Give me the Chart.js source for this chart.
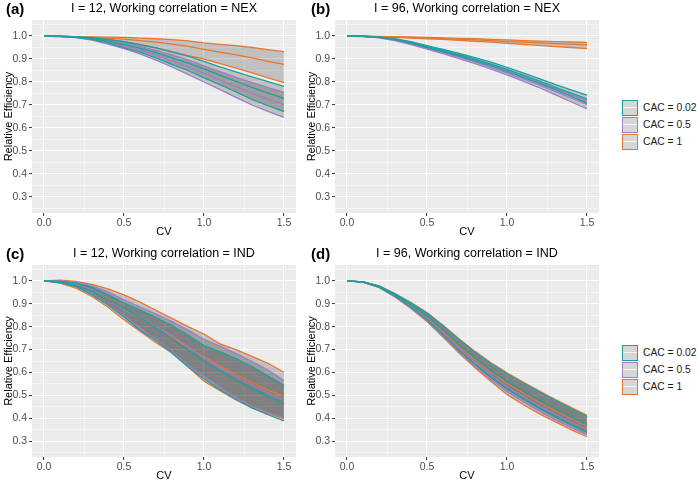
<!DOCTYPE html>
<html>
<head>
<meta charset="utf-8">
<script src="https://cdn.jsdelivr.net/npm/chart.js@4"></script>
<style>
  body { margin: 0; background: #fff; width: 697px; height: 486px; position: relative; overflow: hidden; font-family: "Liberation Sans", Arial, sans-serif; }
  canvas { position: absolute; }
  .legend { position: absolute; left: 622px; width: 75px; font-size: 10.3px; color: #1a1a1a; white-space: nowrap; }
  .legend .row { height: 17px; display: flex; align-items: center; }
  .legend .key { width: 14px; height: 14px; background: #d6d6d6; border: 1.5px solid; position: relative; margin-right: 5px; flex: none; }
  .legend .key::after { content: ""; position: absolute; left: 0; right: 0; top: 6px; height: 1.5px; background: rgba(255,255,255,0.7); }
</style>
</head>
<body>
<canvas id="pa" width="300" height="240" style="left:0;top:0"></canvas>
<canvas id="pb" width="300" height="240" style="left:303px;top:0"></canvas>
<canvas id="pc" width="300" height="239" style="left:0;top:245px"></canvas>
<canvas id="pd" width="300" height="239" style="left:303px;top:245px"></canvas>
<div class="legend" id="leg1" style="top:99px"></div>
<div class="legend" id="leg2" style="top:344px"></div>
<script>
// x values (CV) and axis ticks
const cv = [0, 0.1, 0.2, 0.3, 0.4, 0.5, 0.6, 0.7, 0.8, 0.9, 1.0, 1.1, 1.2, 1.3, 1.4, 1.5];
const xTicks = [0, 0.5, 1.0, 1.5];
const yTicks = [0.3, 0.4, 0.5, 0.6, 0.7, 0.8, 0.9, 1.0];
const cacLabels = ['CAC = 0.02', 'CAC = 0.5', 'CAC = 1'];
const cacColors = ['#1ba19d', '#a07cc9', '#e8772e'];

// (a) I = 12, NEX
const aTealHi   = [1.0,0.999,0.997,0.993,0.985,0.975,0.962,0.948,0.930,0.912,0.890,0.866,0.844,0.822,0.802,0.781];
const aTealMid  = [1.0,0.999,0.996,0.990,0.978,0.963,0.947,0.928,0.905,0.882,0.857,0.830,0.803,0.777,0.752,0.729];
const aTealLo   = [1.0,0.998,0.994,0.985,0.970,0.950,0.930,0.905,0.877,0.850,0.818,0.788,0.757,0.724,0.697,0.671];
const aPurpHi   = [1.0,0.999,0.996,0.991,0.982,0.970,0.955,0.938,0.918,0.896,0.870,0.845,0.820,0.797,0.776,0.755];
const aPurpMid  = [1.0,0.998,0.995,0.988,0.975,0.958,0.940,0.918,0.893,0.866,0.838,0.808,0.780,0.752,0.726,0.702];
const aPurpLo   = [1.0,0.998,0.993,0.982,0.965,0.945,0.922,0.895,0.866,0.833,0.800,0.767,0.733,0.700,0.672,0.646];
const aOrngHi   = [1.0,0.998,0.997,0.996,0.995,0.994,0.991,0.988,0.984,0.979,0.970,0.964,0.958,0.950,0.941,0.932];
const aOrngMid  = [1.0,0.997,0.996,0.994,0.991,0.986,0.980,0.973,0.965,0.955,0.942,0.930,0.918,0.905,0.890,0.877];
const aOrngLo   = [1.0,0.997,0.995,0.992,0.985,0.975,0.962,0.948,0.932,0.915,0.900,0.880,0.860,0.840,0.818,0.797];

// (b) I = 96, NEX
const bTealHi   = [1.0,0.999,0.996,0.988,0.975,0.958,0.942,0.925,0.906,0.886,0.864,0.840,0.815,0.790,0.766,0.743];
const bTealMid  = [1.0,0.999,0.995,0.986,0.972,0.954,0.937,0.919,0.899,0.878,0.855,0.830,0.805,0.778,0.752,0.727];
const bTealLo   = [1.0,0.999,0.994,0.984,0.969,0.950,0.932,0.913,0.892,0.870,0.846,0.820,0.794,0.767,0.738,0.708];
const bPurpHi   = [1.0,0.999,0.995,0.985,0.970,0.952,0.934,0.915,0.895,0.873,0.850,0.825,0.799,0.773,0.746,0.720];
const bPurpMid  = [1.0,0.998,0.993,0.982,0.966,0.947,0.928,0.908,0.887,0.864,0.840,0.814,0.787,0.759,0.731,0.703];
const bPurpLo   = [1.0,0.998,0.992,0.980,0.963,0.943,0.923,0.902,0.880,0.856,0.831,0.804,0.776,0.745,0.714,0.683];
const bOrngHi   = [1.0,0.999,0.998,0.997,0.996,0.994,0.992,0.990,0.988,0.985,0.983,0.980,0.978,0.976,0.974,0.972];
const bOrngMid  = [1.0,0.998,0.997,0.995,0.993,0.991,0.989,0.986,0.983,0.980,0.976,0.973,0.970,0.967,0.965,0.962];
const bOrngLo   = [1.0,0.997,0.996,0.994,0.991,0.988,0.985,0.981,0.977,0.973,0.968,0.964,0.959,0.954,0.950,0.945];

// (c) I = 12, IND
const cTealHi   = [1.0,0.998,0.990,0.972,0.940,0.903,0.872,0.840,0.805,0.762,0.717,0.690,0.660,0.625,0.585,0.543];
const cTealMid  = [1.0,0.995,0.980,0.955,0.920,0.881,0.840,0.795,0.748,0.698,0.649,0.607,0.567,0.528,0.495,0.463];
const cTealLo   = [1.0,0.993,0.975,0.940,0.895,0.842,0.785,0.740,0.685,0.625,0.572,0.525,0.483,0.445,0.415,0.388];
const cPurpHi   = [1.0,1.001,0.994,0.978,0.952,0.917,0.886,0.855,0.822,0.785,0.745,0.715,0.683,0.648,0.610,0.565];
const cPurpMid  = [1.0,0.997,0.985,0.960,0.920,0.874,0.840,0.800,0.760,0.712,0.663,0.620,0.580,0.545,0.510,0.479];
const cPurpLo   = [1.0,0.995,0.978,0.945,0.898,0.848,0.795,0.745,0.690,0.632,0.583,0.535,0.490,0.452,0.425,0.400];
const cOrngHi   = [1.0,1.003,0.998,0.985,0.965,0.939,0.907,0.872,0.836,0.800,0.768,0.725,0.700,0.670,0.640,0.601];
const cOrngMid  = [1.0,0.997,0.985,0.960,0.923,0.881,0.840,0.795,0.752,0.710,0.668,0.628,0.590,0.556,0.523,0.495];
const cOrngLo   = [1.0,0.990,0.968,0.932,0.885,0.830,0.780,0.730,0.685,0.625,0.562,0.520,0.480,0.445,0.420,0.398];

// (d) I = 96, IND
const dTealHi   = [1.0,0.996,0.977,0.944,0.903,0.859,0.803,0.744,0.688,0.638,0.594,0.553,0.515,0.478,0.442,0.407];
const dTealMid  = [1.0,0.996,0.976,0.940,0.896,0.847,0.786,0.722,0.663,0.609,0.561,0.519,0.479,0.442,0.406,0.372];
const dTealLo   = [1.0,0.995,0.973,0.933,0.885,0.831,0.765,0.697,0.635,0.578,0.528,0.484,0.444,0.406,0.371,0.338];
const dPurpHi   = [1.0,0.996,0.977,0.943,0.902,0.857,0.801,0.742,0.686,0.636,0.592,0.552,0.513,0.476,0.440,0.405];
const dPurpMid  = [1.0,0.995,0.974,0.935,0.889,0.836,0.772,0.705,0.644,0.588,0.538,0.495,0.455,0.418,0.383,0.350];
const dPurpLo   = [1.0,0.995,0.972,0.931,0.882,0.826,0.759,0.690,0.627,0.569,0.516,0.472,0.432,0.394,0.360,0.328];
const dOrngHi   = [1.0,0.996,0.978,0.945,0.905,0.862,0.806,0.747,0.692,0.642,0.598,0.558,0.520,0.483,0.447,0.412];
const dOrngMid  = [1.0,0.996,0.975,0.938,0.893,0.843,0.781,0.716,0.656,0.601,0.553,0.511,0.471,0.434,0.399,0.366];
const dOrngLo   = [1.0,0.995,0.972,0.930,0.880,0.823,0.755,0.685,0.620,0.560,0.504,0.460,0.420,0.385,0.350,0.319];

const isMajor = (v, list) => list.some(t => Math.abs(t - v) < 1e-6);

// gray panel background like ggplot
const panelBg = {
    id: 'panelBg',
    beforeDraw(chart) {
        const a = chart.chartArea, ctx = chart.ctx;
        ctx.save();
        ctx.fillStyle = '#ebebeb';
        ctx.fillRect(a.left, a.top, a.right - a.left, a.bottom - a.top);
        ctx.restore();
    }
};

// title and panel letter
const panelText = {
    id: 'panelText',
    afterDraw(chart, args, opts) {
        const a = chart.chartArea, ctx = chart.ctx;
        ctx.save();
        ctx.fillStyle = '#000';
        ctx.textBaseline = 'middle';
        ctx.textAlign = 'center';
        ctx.font = '12.5px "Liberation Sans", Arial, sans-serif';
        ctx.fillText(opts.title, (a.left + a.right) / 2, 9);
        ctx.textAlign = 'left';
        ctx.font = 'bold 15px "Liberation Sans", Arial, sans-serif';
        ctx.fillText(opts.letter, opts.letterX, 10);
        ctx.restore();
    }
};

function makePanel(id, letter, letterX, title, series) {
    let datasets = [];
    series.forEach((s, k) => {
        const base = datasets.length;
        const mk = (data, fill) => ({
            data: data,
            borderColor: cacColors[k],
            borderWidth: 1.3,
            pointRadius: 0,
            tension: 0,
            fill: fill,
            backgroundColor: 'rgba(0,0,0,0.18)'
        });
        datasets.push(mk(s[0], base + 2));
        datasets.push(mk(s[1], false));
        datasets.push(mk(s[2], false));
    });
    datasets.forEach(d => { d.data = d.data.map((y, i) => ({ x: cv[i], y: y })); });

    const tickFont = { size: 10.5, family: '"Liberation Sans", Arial, sans-serif' };
    const titleFont = { size: 11, family: '"Liberation Sans", Arial, sans-serif' };

    new Chart(document.getElementById(id), {
        type: 'line',
        data: { datasets: datasets },
        options: {
            responsive: false,
            animation: false,
            devicePixelRatio: 1,
            layout: { padding: { top: 20, right: 4, left: 0, bottom: 0 } },
            plugins: {
                legend: { display: false },
                tooltip: { enabled: false },
                filler: { drawTime: 'beforeDatasetsDraw' },
                panelText: { title: title, letter: letter, letterX: letterX }
            },
            scales: {
                x: {
                    type: 'linear',
                    min: -0.075, max: 1.575,
                    afterBuildTicks: sc => { sc.ticks = [0, 0.25, 0.5, 0.75, 1.0, 1.25, 1.5].map(v => ({ value: v })); },
                    afterFit: sc => { sc.height = 27; },
                    border: { display: false },
                    grid: {
                        color: '#ffffff',
                        lineWidth: c => isMajor(c.tick.value, xTicks) ? 1.1 : 0.5,
                        tickLength: 3,
                        tickColor: c => isMajor(c.tick.value, xTicks) ? '#333333' : 'rgba(0,0,0,0)',
                        tickWidth: 1
                    },
                    ticks: {
                        autoSkip: false, maxRotation: 0, padding: 1,
                        color: '#4d4d4d', font: tickFont,
                        callback: v => isMajor(v, xTicks) ? v.toFixed(1) : ''
                    },
                    title: { display: true, text: 'CV', color: '#000', font: titleFont, padding: { top: 0, bottom: 1 } }
                },
                y: {
                    type: 'linear',
                    min: 0.2304, max: 1.0696,
                    afterBuildTicks: sc => {
                        const t = [];
                        for (let v = 0.25; v < 1.06; v += 0.05) t.push({ value: Math.round(v * 100) / 100 });
                        sc.ticks = t;
                    },
                    afterFit: sc => { sc.width = 32; },
                    border: { display: false },
                    grid: {
                        color: '#ffffff',
                        lineWidth: c => isMajor(c.tick.value, yTicks) ? 1.1 : 0.5,
                        tickLength: 3,
                        tickColor: c => isMajor(c.tick.value, yTicks) ? '#333333' : 'rgba(0,0,0,0)',
                        tickWidth: 1
                    },
                    ticks: {
                        autoSkip: false, padding: 2,
                        color: '#4d4d4d', font: tickFont,
                        callback: v => isMajor(v, yTicks) ? v.toFixed(1) : ''
                    },
                    title: { display: true, text: 'Relative Efficiency', color: '#000', font: titleFont, padding: { top: 2, bottom: 0 } }
                }
            }
        },
        plugins: [panelBg, panelText]
    });
}

makePanel('pa', '(a)', 6, 'I = 12, Working correlation = NEX',
    [[aTealHi, aTealMid, aTealLo], [aPurpHi, aPurpMid, aPurpLo], [aOrngHi, aOrngMid, aOrngLo]]);
makePanel('pb', '(b)', 8, 'I = 96, Working correlation = NEX',
    [[bTealHi, bTealMid, bTealLo], [bPurpHi, bPurpMid, bPurpLo], [bOrngHi, bOrngMid, bOrngLo]]);
makePanel('pc', '(c)', 6, 'I = 12, Working correlation = IND',
    [[cTealHi, cTealMid, cTealLo], [cPurpHi, cPurpMid, cPurpLo], [cOrngHi, cOrngMid, cOrngLo]]);
makePanel('pd', '(d)', 8, 'I = 96, Working correlation = IND',
    [[dTealHi, dTealMid, dTealLo], [dPurpHi, dPurpMid, dPurpLo], [dOrngHi, dOrngMid, dOrngLo]]);

// legends
['leg1', 'leg2'].forEach(id => {
    const el = document.getElementById(id);
    cacLabels.forEach((lab, k) => {
        const row = document.createElement('div');
        row.className = 'row';
        const key = document.createElement('div');
        key.className = 'key';
        key.style.borderColor = cacColors[k];
        const txt = document.createElement('span');
        txt.textContent = lab;
        row.appendChild(key);
        row.appendChild(txt);
        el.appendChild(row);
    });
});
</script>
</body>
</html>
